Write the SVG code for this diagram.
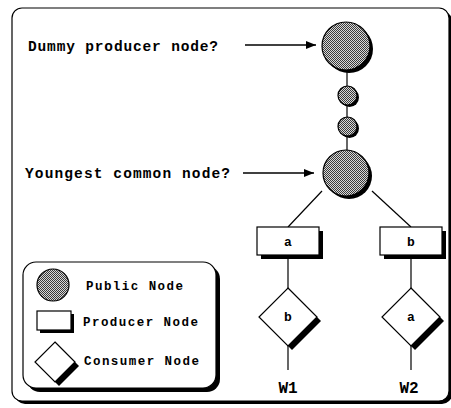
<svg xmlns="http://www.w3.org/2000/svg" width="451" height="408" viewBox="0 0 451 408">
  <defs>
    <!-- dithered grey fill used for public nodes -->
    <pattern id="dither" width="2" height="2" patternUnits="userSpaceOnUse">
      <rect width="2" height="2" fill="#d8d8d8"/>
      <rect width="1" height="1" fill="#3a3a3a"/>
      <rect x="1" y="1" width="1" height="1" fill="#3a3a3a"/>
    </pattern>
    <marker id="arrow" viewBox="0 0 10 8" refX="10" refY="4" markerWidth="10" markerHeight="8" markerUnits="userSpaceOnUse" orient="auto">
      <path d="M0,0 L10,4 L0,8 Z" fill="#000"/>
    </marker>
  </defs>
  <style>
    .lbl { font-family: "Liberation Mono", "Courier New", monospace; font-weight: bold; fill: #000; }
    .big { font-size: 14.5px; }
    .leg { font-size: 12.5px; }
    .box { font-size: 13px; text-anchor: middle; }
    .w { font-size: 16px; text-anchor: middle; }
    .pub { fill: url(#dither); stroke: #000; stroke-width: 1.2; }
    .shadow { fill: #000; stroke: none; }
    .plain { fill: #fff; stroke: #000; stroke-width: 1.2; }
    .edge { stroke: #000; stroke-width: 1.2; fill: none; }
  </style>

  <rect width="451" height="408" fill="#fff"/>

  <!-- outer frame with drop shadow -->
  <g id="frame">
    <rect x="15" y="11" width="437" height="393" rx="10" class="shadow"/>
    <rect x="12" y="8" width="437" height="393" rx="10" class="plain"/>
  </g>

  <!-- connectors -->
  <g id="connectors">
    <line x1="347" y1="68" x2="347" y2="152" class="edge"/>
    <line x1="322" y1="191" x2="288" y2="227" class="edge"/>
    <line x1="372" y1="191" x2="411" y2="227" class="edge"/>
    <line x1="288" y1="255" x2="288" y2="370" class="edge"/>
    <line x1="411" y1="255" x2="411" y2="370" class="edge"/>
    <line x1="245" y1="45" x2="316" y2="45" stroke="#000" stroke-width="1.6" marker-end="url(#arrow)"/>
    <line x1="243" y1="173" x2="314" y2="173" stroke="#000" stroke-width="1.6" marker-end="url(#arrow)"/>
  </g>

  <!-- annotations -->
  <g id="annotations">
    <text x="28" y="50.5" class="lbl big" textLength="190" lengthAdjust="spacing">Dummy producer node?</text>
    <text x="25" y="177.5" class="lbl big" textLength="205" lengthAdjust="spacing">Youngest common node?</text>
  </g>

  <!-- public nodes -->
  <g id="dummy-producer">
    <circle cx="349" cy="49" r="24" class="shadow"/>
    <circle cx="346" cy="46" r="24" class="pub"/>
  </g>
  <g id="public-1">
    <circle cx="349.5" cy="97.5" r="9.5" class="shadow"/>
    <circle cx="347.5" cy="95.5" r="9.5" class="pub"/>
  </g>
  <g id="public-2">
    <circle cx="349.5" cy="128.5" r="9.5" class="shadow"/>
    <circle cx="347.5" cy="126.5" r="9.5" class="pub"/>
  </g>
  <g id="youngest-common">
    <circle cx="349" cy="176" r="23" class="shadow"/>
    <circle cx="346" cy="173" r="23" class="pub"/>
  </g>

  <!-- producer nodes -->
  <g id="producer-a">
    <rect x="261" y="231" width="62" height="28" class="shadow"/>
    <rect x="257" y="227" width="62" height="28" class="plain"/>
    <text x="288" y="245.5" class="lbl box">a</text>
  </g>
  <g id="producer-b">
    <rect x="384" y="231" width="62" height="28" class="shadow"/>
    <rect x="380" y="227" width="62" height="28" class="plain"/>
    <text x="411" y="245.5" class="lbl box">b</text>
  </g>

  <!-- consumer nodes -->
  <g id="consumer-b">
    <path d="M292,292 L321,321 L292,350 L263,321 Z" class="shadow"/>
    <path d="M288,288 L317,317 L288,346 L259,317 Z" class="plain"/>
    <text x="288" y="321" class="lbl box">b</text>
  </g>
  <g id="consumer-a">
    <path d="M415,292 L444,321 L415,350 L386,321 Z" class="shadow"/>
    <path d="M411,288 L440,317 L411,346 L382,317 Z" class="plain"/>
    <text x="411" y="321" class="lbl box">a</text>
  </g>

  <g id="w1"><text x="288" y="393" class="lbl w">W1</text></g>
  <g id="w2"><text x="409" y="393" class="lbl w">W2</text></g>

  <!-- legend -->
  <g id="legend">
    <rect x="27" y="266" width="193" height="126" rx="13" class="shadow"/>
    <rect x="23" y="262" width="193" height="126" rx="13" class="plain"/>
    <circle cx="53" cy="285" r="16" class="pub"/>
    <rect x="40" y="314" width="34" height="19" class="shadow"/>
    <rect x="37" y="311" width="34" height="19" class="plain"/>
    <path d="M59,346 L79,366 L59,386 L39,366 Z" class="shadow"/>
    <path d="M55,342 L75,362 L55,382 L35,362 Z" class="plain"/>
    <text x="86" y="289.5" class="lbl leg" textLength="97" lengthAdjust="spacing">Public Node</text>
    <text x="83" y="326" class="lbl leg" textLength="115" lengthAdjust="spacing">Producer Node</text>
    <text x="84" y="364.5" class="lbl leg" textLength="115" lengthAdjust="spacing">Consumer Node</text>
  </g>
</svg>
